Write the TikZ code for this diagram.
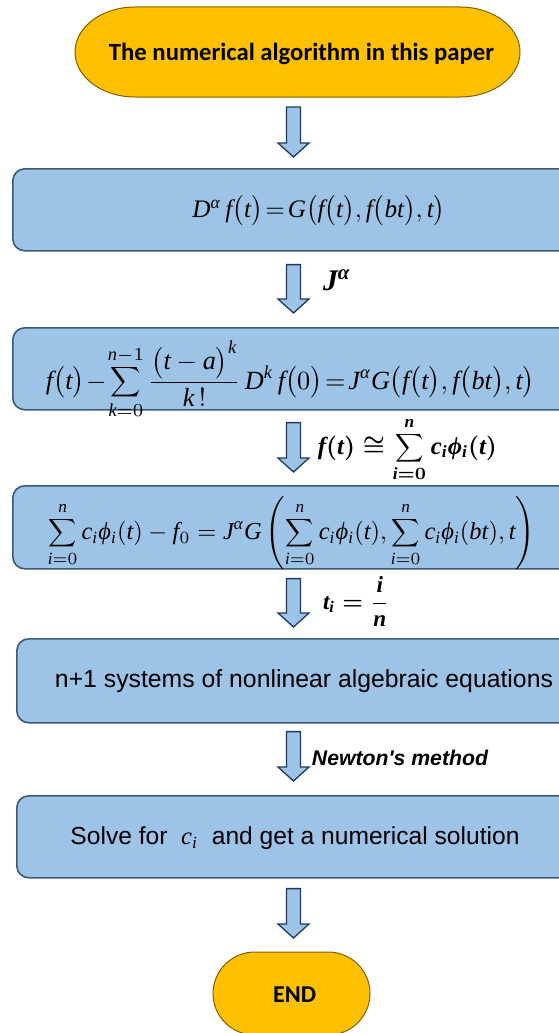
\documentclass[tikz,border=0pt]{standalone}
\usepackage{amsmath,amssymb}
\usepackage{fontspec}
\setmainfont{Liberation Serif}
\setsansfont{Liberation Sans}
\newfontfamily\calibrifont{Carlito}
\newfontfamily\timesfam{Liberation Serif}[NFSSFamily=timesx]
\DeclareSymbolFont{tletters}{TU}{timesx}{m}{it}
\SetSymbolFont{tletters}{bold}{TU}{timesx}{b}{it}
\DeclareSymbolFont{tupright}{TU}{timesx}{m}{n}
\SetSymbolFont{tupright}{bold}{TU}{timesx}{b}{n}
\DeclareMathSymbol{a}{\mathalpha}{tletters}{`a}
\DeclareMathSymbol{b}{\mathalpha}{tletters}{`b}
\DeclareMathSymbol{c}{\mathalpha}{tletters}{`c}
\DeclareMathSymbol{f}{\mathalpha}{tletters}{`f}
\DeclareMathSymbol{i}{\mathalpha}{tletters}{`i}
\DeclareMathSymbol{k}{\mathalpha}{tletters}{`k}
\DeclareMathSymbol{n}{\mathalpha}{tletters}{`n}
\DeclareMathSymbol{t}{\mathalpha}{tletters}{`t}
\DeclareMathSymbol{D}{\mathalpha}{tletters}{`D}
\DeclareMathSymbol{G}{\mathalpha}{tletters}{`G}
\DeclareMathSymbol{J}{\mathalpha}{tletters}{`J}
\DeclareMathSymbol{0}{\mathalpha}{tupright}{`0}
\DeclareMathSymbol{1}{\mathalpha}{tupright}{`1}
\DeclareMathSymbol{(}{\mathopen}{tupright}{`(}
\DeclareMathSymbol{)}{\mathclose}{tupright}{`)}
\AtBeginDocument{%
  \Umathchardef\alpha="0 \symtletters "03B1\relax
  \Umathchardef\phi="0 \symtletters "03D5\relax}
\newcommand\midsum{\mathop{\vcenter{\hbox{\scalebox{0.8}{$\displaystyle\sum$}}}}\limits}
\usetikzlibrary{calc}
\definecolor{orangefill}{HTML}{FFC000}
\definecolor{orangeline}{HTML}{7F6000}
\definecolor{boxfill}{HTML}{9DC3E6}
\definecolor{boxline}{HTML}{3C5A78}
\definecolor{arrowline}{HTML}{1F3A5F}
\tikzset{
  boxstyle/.style={rectangle, rounded corners=12pt, draw=boxline, fill=boxfill, line width=1.6pt, anchor=north west, minimum width=565pt, minimum height=82pt, inner sep=0pt},
  ovalstyle/.style={draw=orangeline, fill=orangefill, line width=1pt},
  arrowstyle/.style={draw=arrowline, fill=boxfill, line width=1.3pt, line join=miter},
  holder/.style={inner sep=0pt, outer sep=0pt},
  txt/.style={inner sep=0pt, outer sep=0pt, anchor=center}
}
\newcommand\ovalshape[3]{%
  \draw[ovalstyle] ($(#1.north west)+(#2,0)$) -- ($(#1.north east)+(-#2,0)$)
    arc[start angle=90,end angle=-90,x radius=#2,y radius=#3]
    -- ($(#1.south west)+(#2,0)$)
    arc[start angle=270,end angle=90,x radius=#2,y radius=#3] -- cycle;}
\newcommand\blockarrow[2]{%
  \path[arrowstyle] let \p1=(#1), \p2=(#2) in
  (\x1-7pt,\y1) -- (\x1+7pt,\y1) -- (\x1+7pt,\y2+14pt) -- (\x1+15.5pt,\y2+14pt)
  -- (\x1,\y2) -- (\x1-15.5pt,\y2+14pt) -- (\x1-7pt,\y2+14pt) -- cycle;}
\begin{document}
\begin{tikzpicture}[x=1pt,y=1pt]
\useasboundingbox (0,0) rectangle (559,-1033);
\fill[white] (0,0) rectangle (559,-1033);
\clip (0,0) rectangle (559,-1033);

% start oval
\node[holder, minimum width=445pt, minimum height=90pt] (o) at (297.5,-52) {};
\ovalshape{o}{60}{45}
\node[txt] (ot) at (301.5,-54) {\resizebox{385pt}{!}{\calibrifont\bfseries The numerical algorithm in this paper}};

% boxes
\node[boxstyle] (b1) at (12,-168) {};
\node[boxstyle] (b2) at (12,-327) {};
\node[boxstyle, minimum height=83pt] (b3) at (12,-485) {};
\node[boxstyle, minimum height=84pt] (b4) at (16,-638) {};
\node[boxstyle] (b5) at (16,-795) {};

% end oval
\node[holder, minimum width=157pt, minimum height=83pt] (e) at (291.5,-993.5) {};
\ovalshape{e}{42}{41.5}
\node[txt] (et) at (294.5,-995) {\resizebox{43pt}{!}{\calibrifont\bfseries END}};

% box texts
\node[txt] (t1) at (319,-211) {\resizebox{253pt}{!}{$D^{\alpha}\,f\bigl(t\bigr)\!=\!G\bigl(f\bigl(t\bigr), f\bigl(bt\bigr),t\bigr)$}};
\node[txt] (t2) at (290.5,-380) {\resizebox{489pt}{!}{$\displaystyle f\bigl(t\bigr)\!-\!\midsum_{k=0}^{n-1}\frac{\bigl(t-a\bigr)^{k}}{k\,!}\,D^{k}\,f\bigl(0\bigr)\!=\!J^{\alpha}G\bigl(f\bigl(t\bigr), f\bigl(bt\bigr),t\bigr)$}};
\node[txt] (t3) at (291.5,-533.5) {\resizebox{487pt}{!}{$\displaystyle \midsum_{i=0}^{n}c_i\phi_i(t)-f_0=J^{\alpha}G\left(\midsum_{i=0}^{n}c_i\phi_i(t),\midsum_{i=0}^{n}c_i\phi_i(bt),t\right)$}};
\node[txt] (t4) at (304,-681) {\resizebox{498pt}{!}{\sffamily n+1 systems of nonlinear algebraic equations}};
\node[txt] (t5) at (295,-838) {\resizebox{449pt}{!}{\sffamily Solve for \ $c_i$\ \ and get a numerical solution}};

% arrows
\coordinate (ax) at (293.5,0);
\coordinate (a1s) at ($(ax |- o.south)+(0,-10)$);
\coordinate (a1e) at ($(ax |- b1.north)+(0,11)$);
\coordinate (a2s) at ($(ax |- b1.south)+(0,-13)$);
\coordinate (a2e) at ($(ax |- b2.north)+(0,14)$);
\coordinate (a3s) at ($(ax |- b2.south)+(0,-12)$);
\coordinate (a3e) at ($(ax |- b3.north)+(0,13)$);
\coordinate (a4s) at ($(ax |- b3.south)+(0,-9)$);
\coordinate (a4e) at ($(ax |- b4.north)+(0,11)$);
\coordinate (a5s) at ($(ax |- b4.south)+(0,-8)$);
\coordinate (a5e) at ($(ax |- b5.north)+(0,14)$);
\coordinate (a6s) at ($(ax |- b5.south)+(0,-10)$);
\coordinate (a6e) at ($(ax |- e.north)+(0,14)$);
\blockarrow{a1s}{a1e}
\blockarrow{a2s}{a2e}
\blockarrow{a3s}{a3e}
\blockarrow{a4s}{a4e}
\blockarrow{a5s}{a5e}
\blockarrow{a6s}{a6e}

% arrow labels
\node[txt] (l2) at (337,-280) {\resizebox{28pt}{!}{\boldmath$J^{\alpha}$}};
\node[txt] (l3) at (407.5,-449.5) {\resizebox{179pt}{!}{\boldmath$\displaystyle f(t)\cong\midsum_{i=0}^{n}c_i\phi_i(t)$}};
\node[txt] (l4) at (356,-601.5) {\resizebox{66pt}{!}{\boldmath$\displaystyle t_i=\frac{i}{n}$}};
\node[txt] (l5) at (400,-758) {\resizebox{176pt}{!}{\sffamily\bfseries\itshape Newton\textquotesingle s method}};
\end{tikzpicture}
\end{document}
